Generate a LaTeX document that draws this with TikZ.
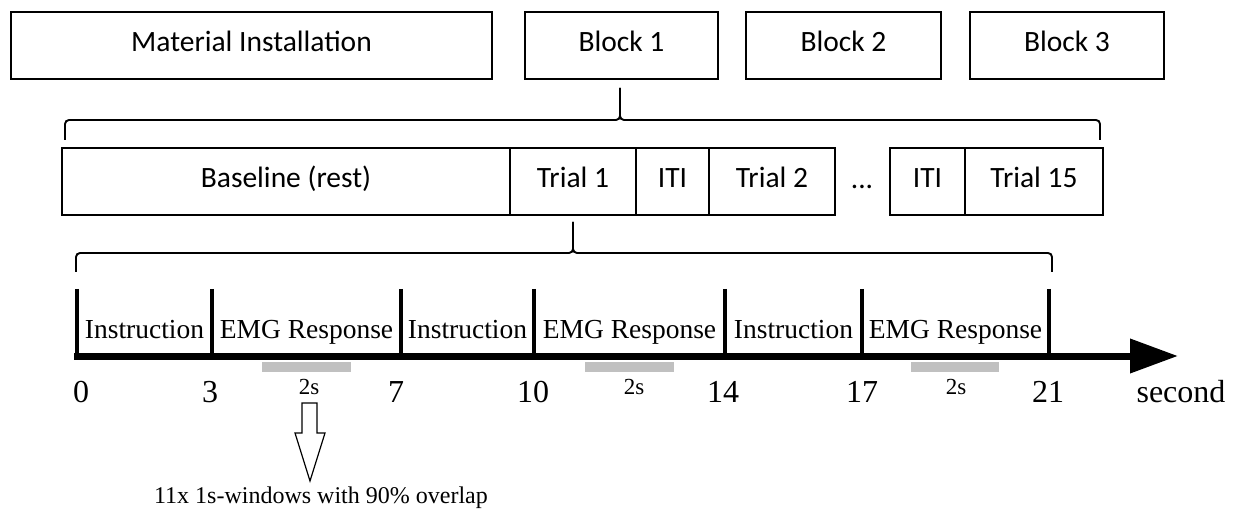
\documentclass[tikz,border=0pt]{standalone}
\usepackage{fontspec}
\setmainfont{Liberation Serif}
\newfontfamily\calib{Carlito}
\usetikzlibrary{arrows.meta}
\definecolor{bargray}{RGB}{192,192,192}
\begin{document}
\begin{tikzpicture}[x=1pt,y=-1pt,
  stagebox/.style={draw, line width=2.2pt, outer sep=0pt, inner sep=0pt,
    minimum height=67pt, anchor=north west, text height=19pt, text depth=6pt,
    font=\calib\fontsize{29.5}{34}\selectfont},
  bracepath/.style={line width=1.9pt, rounded corners=4pt},
  tickline/.style={line width=4.5pt},
  seglabel/.style={anchor=base, inner sep=0pt, font=\fontsize{27.5}{31}\selectfont},
  numlabel/.style={anchor=base, inner sep=0pt, font=\fontsize{32}{37}\selectfont},
  durlabel/.style={anchor=base, inner sep=0pt, font=\fontsize{23}{26}\selectfont},
  graybar/.style={fill=bargray, draw=none}
]
\useasboundingbox (0,0) rectangle (1236,510);

% ---- session overview ----
\node[stagebox, text depth=7pt, minimum width=481pt] (mi) at (11,12) {Material Installation};
\node[stagebox, text depth=7pt, minimum width=193pt] (b1) at (525,12) {Block 1};
\node[stagebox, text depth=7pt, minimum width=195pt] (b2) at (746,12) {Block 2};
\node[stagebox, text depth=7pt, minimum width=194pt] (b3) at (970,12) {Block 3};

% ---- block structure ----
\node[stagebox, minimum width=448pt] (base) at (62,148) {Baseline (rest)};
\node[stagebox, minimum width=126pt] (tr1) at (510,148) {Trial 1};
\node[stagebox, minimum width=73pt]  (iti1) at (636,148) {ITI};
\node[stagebox, minimum width=126pt] (tr2) at (709,148) {Trial 2};
\node[inner sep=0pt, anchor=base, font=\calib\fontsize{29.5}{34}\selectfont] (dots) at (862,189) {...};
\node[stagebox, minimum width=75pt]  (iti2) at (890,148) {ITI};
\node[stagebox, minimum width=138pt] (tr15) at (965,148) {Trial 15};

% brace: Block 1 -> its trials
\coordinate (bA) at (620,88);
\coordinate (bM) at (620,120);
\coordinate (bL) at (65,140);
\coordinate (bR) at (1100,140);
\draw[bracepath] (bL) |- (bM) -- (bA);
\draw[bracepath] (bR) |- (bM) -- (bA);

% brace: Trial 1 -> its timeline
\coordinate (cA) at (573,222);
\coordinate (cM) at (573,253);
\coordinate (cL) at (76,272);
\coordinate (cR) at (1052,272);
\draw[bracepath] (cL) |- (cM) -- (cA);
\draw[bracepath] (cR) |- (cM) -- (cA);

% ---- trial timeline ----
\coordinate (t0) at (74,356);
\coordinate (tend) at (1178,356);
\draw[line width=7pt, -{Triangle[length=48pt,width=33pt]}] (t0) -- (tend);

\foreach \x in {77,212,401,534,725,862,1049}{
  \draw[tickline] (\x,289) -- (\x,357);
}

\node[seglabel] (s1) at (144.5,338) {Instruction};
\node[seglabel] (s2) at (306.5,338) {EMG Response};
\node[seglabel] (s3) at (467.5,338) {Instruction};
\node[seglabel] (s4) at (629.5,338) {EMG Response};
\node[seglabel] (s5) at (793.5,338) {Instruction};
\node[seglabel] (s6) at (955.5,338) {EMG Response};

\node[numlabel] (n0)  at (81,402) {0};
\node[numlabel] (n3)  at (210,402) {3};
\node[numlabel] (n7)  at (396,402) {7};
\node[numlabel] (n10) at (533,402) {10};
\node[numlabel] (n14) at (723,402) {14};
\node[numlabel] (n17) at (862,402) {17};
\node[numlabel] (n21) at (1048,402) {21};
\node[numlabel] (unit) at (1181,402) {second};

% analysed 2 s windows
\fill[graybar] (262,362) rectangle (351,372);
\fill[graybar] (585,362) rectangle (674,372);
\fill[graybar] (911,362) rectangle (999,372);
\node[durlabel] (d1) at (309,394) {2s};
\node[durlabel] (d2) at (634,394) {2s};
\node[durlabel] (d3) at (956,394) {2s};

% hollow arrow to the windowing note
\draw[line width=1.2pt, line join=miter] (302,403) -- (317,403) -- (317,433) -- (325,433)
  -- (310,481) -- (295,433) -- (302,433) -- cycle;
\node[anchor=base, inner sep=0pt, font=\fontsize{24}{28}\selectfont] (note) at (321,503)
  {11x 1s-windows with 90\% overlap};
\end{tikzpicture}
\end{document}
